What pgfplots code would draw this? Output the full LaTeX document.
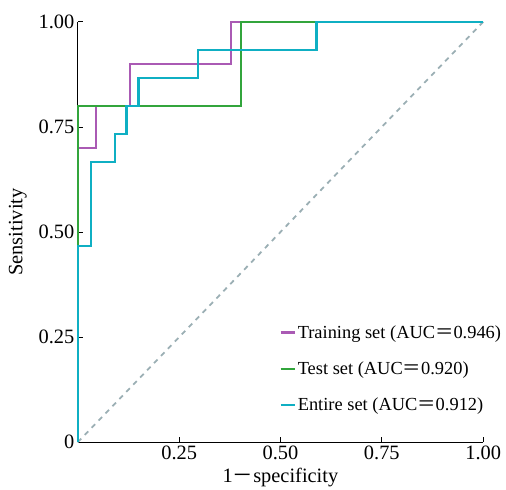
\documentclass[border=0pt]{standalone}
\usepackage{fontspec}
\setmainfont{Liberation Serif}
\newfontfamily\cjk{Noto Sans CJK SC}
\usepackage{pgfplots}
\pgfplotsset{compat=1.18}

\definecolor{trainc}{RGB}{170,90,180}
\definecolor{testc}{RGB}{50,165,60}
\definecolor{allc}{RGB}{15,175,195}
\definecolor{diagc}{RGB}{155,175,180}

\begin{document}
\begin{tikzpicture}
\begin{axis}[
  width=406bp, height=421bp, scale only axis,
  xmin=0, xmax=1, ymin=0, ymax=1,
  axis x line=bottom, axis y line=left,
  axis line style={-, black, line width=1pt},
  tick align=inside, major tick length=5bp,
  tick style={black, line width=0.8pt},
  xtick={0.25,0.5,0.75,1}, xticklabels={0.25,0.50,0.75,1.00},
  ytick={0,0.25,0.5,0.75,1}, yticklabels={0,0.25,0.50,0.75,1.00},
  /pgf/number format/assume math mode=true,
  tick label style={font=\fontsize{20.5}{24}\selectfont},
  clip=false,
  legend cell align=left,
  legend style={draw=none, fill=none, at={(0.49,0.288)}, anchor=north west,
    font=\fontsize{18.5}{22}\selectfont, row sep=18bp},
  legend image code/.code={\draw[#1, line width=2.2pt] (0bp,0bp) -- (14bp,0bp);},
]
\addplot[diagc, line width=1.8pt, dash pattern=on 5bp off 5bp, forget plot]
  coordinates {(0,0) (1,1)};
\addplot[trainc, line width=1.8pt, forget plot] coordinates {
  (0,0) (0,0.70) (0.044,0.70) (0.044,0.80) (0.128,0.80) (0.128,0.90)
  (0.377,0.90) (0.377,1) (1,1)};
\addplot[testc, line width=2.2pt, forget plot] coordinates {
  (0,0) (0,0.80) (0.403,0.80) (0.403,1) (1,1)};
\addplot[allc, line width=2.4pt, forget plot] coordinates {
  (0,0) (0,0.467) (0.032,0.467) (0.032,0.667) (0.091,0.667) (0.091,0.733)
  (0.120,0.733) (0.120,0.80) (0.150,0.80) (0.150,0.867) (0.296,0.867)
  (0.296,0.933) (0.589,0.933) (0.589,1) (1,1)};
\addlegendimage{trainc}
\addlegendentry{Training set (AUC{\cjk ＝}0.946)}
\addlegendimage{testc}
\addlegendentry{Test set (AUC{\cjk ＝}0.920)}
\addlegendimage{allc}
\addlegendentry{Entire set (AUC{\cjk ＝}0.912)}
% labels and page extent
\node[font=\fontsize{20.5}{24}\selectfont, anchor=base] at (rel axis cs:0.5,-0.095) {1{\cjk －}specificity};
\node[font=\fontsize{20.5}{24}\selectfont, rotate=90, anchor=center] at (rel axis cs:-0.148,0.5) {Sensitivity};
\path (rel axis cs:-0.192,-0.112) rectangle (rel axis cs:1.054,1.052);
\end{axis}
\end{tikzpicture}
\end{document}
